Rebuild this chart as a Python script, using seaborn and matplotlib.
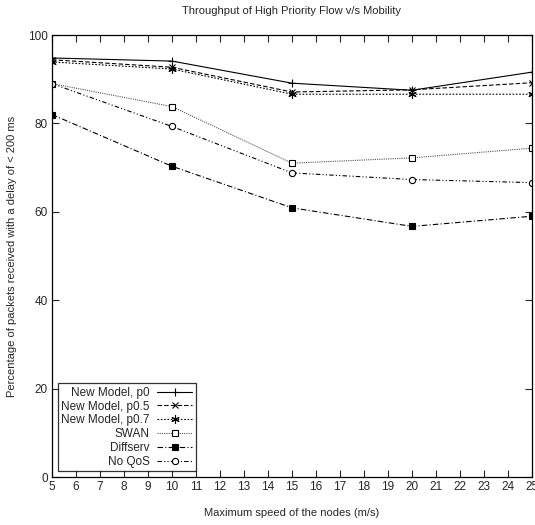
import matplotlib
matplotlib.use("Agg")
import matplotlib.pyplot as plt
import seaborn as sns
import pandas as pd

speeds = [5, 10, 15, 20, 25]
p0 = [94.8, 94.1, 89.1, 87.5, 91.6]
p05 = [94.4, 92.7, 87.1, 87.6, 89.2]
p07 = [93.9, 92.3, 86.6, 86.6, 86.6]
swan = [89.0, 83.8, 71.0, 72.2, 74.4]
diffserv = [82.0, 70.3, 60.9, 56.7, 59.0]
noqos = [89.0, 79.3, 68.8, 67.3, 66.6]

series_names = ["New Model, p0", "New Model, p0.5", "New Model, p0.7", "SWAN", "Diffserv", "No QoS"]
series_vals = [p0, p05, p07, swan, diffserv, noqos]

title = "Throughput of High Priority Flow v/s Mobility"
xlabel = "Maximum speed of the nodes (m/s)"
ylabel = "Percentage of packets received with a delay of < 200 ms"
xticks = list(range(5, 26))
yticks = [0, 20, 40, 60, 80, 100]

sns.set_theme(style="ticks")
plt.rcParams['font.family'] = ['Liberation Sans Narrow', 'Liberation Sans', 'DejaVu Sans']

styles = [
    dict(linestyle="-", marker="+", color="black", mfc="black", ms=6),
    dict(linestyle=(0, (4, 2)), marker="x", color="black", mfc="black", ms=4.5),
    dict(linestyle=(0, (1.5, 1.5)), marker=(6, 2, 0), color="black", mfc="black", ms=6),
    dict(linestyle=(0, (1, 1)), marker="s", color="#555555", mfc="white", ms=5),
    dict(linestyle=(0, (5, 2, 1, 2)), marker="s", color="black", mfc="black", ms=5),
    dict(linestyle=(0, (4, 2, 1, 2, 1, 2)), marker="o", color="black", mfc="white", ms=4.5),
]

df = pd.DataFrame({"speed": speeds * len(series_names),
                   "value": [v for vals in series_vals for v in vals],
                   "series": [n for n in series_names for _ in speeds]})

fig = plt.figure(figsize=(5.35, 5.25), dpi=100)
ax = fig.add_axes([52/535, 1 - 477/525, (532-52)/535, (477-35)/525])

for name, st in zip(series_names, styles):
    sub = df[df["series"] == name]
    sns.lineplot(data=sub, x="speed", y="value", ax=ax, label=name,
                 color=st["color"], linestyle=st["linestyle"], marker=st["marker"],
                 markersize=st["ms"], markerfacecolor=st["mfc"], markeredgecolor="black",
                 markeredgewidth=0.8, linewidth=0.8)

ax.set_xlim(5, 25)
ax.set_ylim(0, 100)
ax.set_xticks(xticks)
ax.set_yticks(yticks)
ax.tick_params(direction="in", top=True, right=True, length=5, width=0.8,
               labelsize=8.5, pad=3)
for s in ax.spines.values():
    s.set_visible(True)
    s.set_linewidth(0.9)
    s.set_color("black")
ax.set_xlabel(xlabel, fontsize=8, labelpad=11)
ax.set_ylabel(ylabel, fontsize=8, labelpad=8)
ax.set_title(title, fontsize=8, pad=15)

leg = ax.legend(loc="lower left", bbox_to_anchor=(0.012, 0.013), markerfirst=False,
                fontsize=8.5, frameon=True, fancybox=False, edgecolor="black",
                handlelength=3.0, handletextpad=0.6, borderpad=0.3, labelspacing=0.15,
                borderaxespad=0)
leg.get_frame().set_linewidth(0.9)

fig.savefig("out.png", dpi=100)
